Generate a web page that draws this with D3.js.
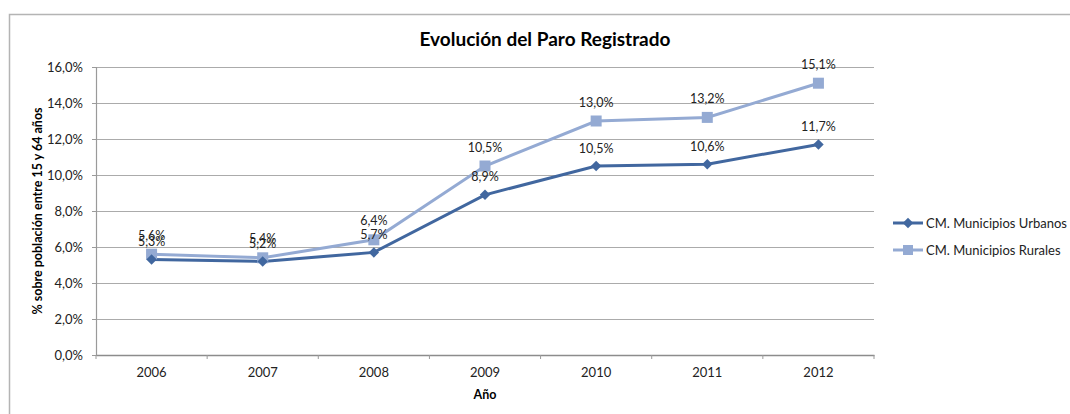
<!DOCTYPE html>
<html>
<head>
<meta charset="utf-8">
<script src="https://cdn.jsdelivr.net/npm/d3@7"></script>
<style>
  body { margin: 0; background: #fff; }
  svg text { font-family: Lato, "Open Sans", sans-serif; fill: #222; }
</style>
</head>
<body>
<div id="chart"></div>
<script>
// chart values
var years = ["2006", "2007", "2008", "2009", "2010", "2011", "2012"];
var urbanos = [5.3, 5.2, 5.7, 8.9, 10.5, 10.6, 11.7];
var rurales = [5.6, 5.4, 6.4, 10.5, 13.0, 13.2, 15.1];
var yTicks = [0, 2, 4, 6, 8, 10, 12, 14, 16];
var seriesNames = ["CM. Municipios Urbanos", "CM. Municipios Rurales"];

var colorUrb = "#41679f";
var colorRur = "#94aad3";
var smallFont = "13px";

var svgWidth = 1070, svgHeight = 414;
var margin = {top: 67, left: 96, right: 196, bottom: 59};

var svg = d3.select("#chart")
  .append("svg")
  .attr("width", svgWidth)
  .attr("height", svgHeight);

// outer chart border
svg.append("rect")
  .attr("x", 9.5).attr("y", 14.5)
  .attr("width", 1080).attr("height", 420)
  .attr("fill", "none")
  .attr("stroke", "#b4b4b4")
  .attr("stroke-width", 1.5);

var width = svgWidth - margin.left - margin.right;
var height = svgHeight - margin.top - margin.bottom;

var x = d3.scaleBand().domain(years).range([0, width]);
var y = d3.scaleLinear().domain([0, 16]).range([height, 0]);

var fmt = function(v) { return d3.format(".1f")(v).replace(".", ",") + "%"; };

var g = svg.append("g")
  .attr("transform", "translate(" + margin.left + "," + margin.top + ")");

// gridlines
g.append("g")
  .selectAll("line")
  .data(yTicks.filter(function(d) { return d > 0; }))
  .join("line")
  .attr("x1", 0).attr("x2", width)
  .attr("y1", function(d) { return Math.round(y(d)) + 0.5; })
  .attr("y2", function(d) { return Math.round(y(d)) + 0.5; })
  .attr("stroke", "#ababab")
  .attr("stroke-width", 1.2);

// y axis
var yAxis = g.append("g")
  .call(d3.axisLeft(y).tickValues(yTicks).tickSize(4).tickPadding(9).tickFormat(fmt));
yAxis.select(".domain").attr("stroke", "#9a9a9a").attr("stroke-width", 1.2);
yAxis.selectAll(".tick line").attr("stroke", "#9a9a9a");
yAxis.selectAll("text").style("font-size", smallFont);

// x axis with boundary ticks
var xAxis = g.append("g")
  .attr("transform", "translate(0," + height + ")")
  .call(d3.axisBottom(x).tickSize(0).tickPadding(13));
xAxis.select(".domain").attr("stroke", "#8c8c8c").attr("stroke-width", 1.5);
xAxis.selectAll("text").style("font-size", smallFont);
xAxis.append("g")
  .selectAll("line")
  .data(d3.range(years.length + 1))
  .join("line")
  .attr("x1", function(i) { return i * x.step(); })
  .attr("x2", function(i) { return i * x.step(); })
  .attr("y1", 0).attr("y2", 4)
  .attr("stroke", "#9a9a9a");

var cx = function(d, i) { return x(years[i]) + x.bandwidth() / 2; };
var line = d3.line().x(cx).y(function(d) { return y(d); });

// series lines
g.append("path").datum(rurales)
  .attr("d", line).attr("fill", "none")
  .attr("stroke", colorRur).attr("stroke-width", 3);
g.append("path").datum(urbanos)
  .attr("d", line).attr("fill", "none")
  .attr("stroke", colorUrb).attr("stroke-width", 3);

// markers
g.append("g").selectAll("rect")
  .data(rurales)
  .join("rect")
  .attr("x", function(d, i) { return cx(d, i) - 5.5; })
  .attr("y", function(d) { return y(d) - 5.5; })
  .attr("width", 11).attr("height", 11)
  .attr("fill", colorRur);

var diamond = d3.symbol().type(d3.symbolDiamond2).size(70);
g.append("g").selectAll("path")
  .data(urbanos)
  .join("path")
  .attr("d", diamond)
  .attr("transform", function(d, i) { return "translate(" + cx(d, i) + "," + y(d) + ")"; })
  .attr("fill", colorUrb);

// data labels
function labels(data, dy) {
  g.append("g").selectAll("text")
    .data(data)
    .join("text")
    .attr("x", function(d, i) { return cx(d, i); })
    .attr("y", function(d) { return y(d) - dy; })
    .attr("text-anchor", "middle")
    .style("font-size", "12.5px")
    .text(fmt);
}
labels(urbanos, 13.5);
labels(rurales, 14.5);

// title
svg.append("text")
  .attr("x", 545).attr("y", 46)
  .attr("text-anchor", "middle")
  .style("font-size", "19px")
  .style("font-weight", "bold")
  .style("fill", "#000")
  .text("Evolución del Paro Registrado");

// axis titles
svg.append("text")
  .attr("transform", "translate(42," + (margin.top + height / 2) + ") rotate(-90)")
  .attr("text-anchor", "middle")
  .style("font-size", "12.5px")
  .style("font-weight", "bold")
  .style("fill", "#000")
  .text("% sobre población entre 15 y 64 años");

svg.append("text")
  .attr("x", margin.left + width / 2).attr("y", 399)
  .attr("text-anchor", "middle")
  .style("font-size", "12.5px")
  .style("font-weight", "bold")
  .style("fill", "#000")
  .text("Año");

// legend
var legend = svg.append("g").attr("transform", "translate(893,223)");
seriesNames.forEach(function(name, i) {
  var row = legend.append("g").attr("transform", "translate(0," + (i * 27) + ")");
  var c = i === 0 ? colorUrb : colorRur;
  row.append("line").attr("x1", 0).attr("x2", 30).attr("y1", 0).attr("y2", 0)
    .attr("stroke", c).attr("stroke-width", 3);
  if (i === 0) {
    row.append("path").attr("d", diamond).attr("transform", "translate(15,0)").attr("fill", c);
  } else {
    row.append("rect").attr("x", 10).attr("y", -5).attr("width", 10).attr("height", 10).attr("fill", c);
  }
  row.append("text").attr("x", 33).attr("y", 4.5)
    .style("font-size", smallFont)
    .text(name);
});
</script>
</body>
</html>
